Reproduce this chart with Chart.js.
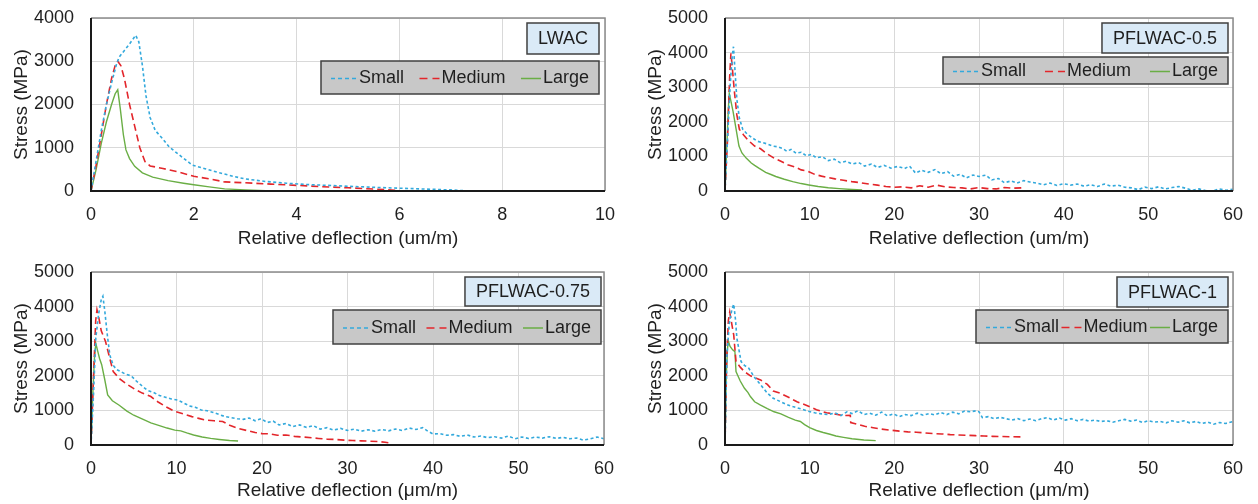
<!DOCTYPE html>
<html lang="en">
<head>
  <meta charset="UTF-8" />
  <title>Stress vs relative deflection</title>
  <script src="https://cdn.jsdelivr.net/npm/chart.js"></script>
  <style>
    body {
      margin: 0;
      background: #fff;
      width: 1258px;
      height: 504px;
      position: relative;
      overflow: hidden;
    }
    .panel {
      position: absolute;
      width: 629px;
      height: 252px;
    }
  </style>
</head>
<body>
  <div class="panel" style="left:0;top:0"><canvas id="cLwac" width="629" height="252"></canvas></div>
  <div class="panel" style="left:629px;top:0"><canvas id="cPf05" width="629" height="252"></canvas></div>
  <div class="panel" style="left:0;top:252px"><canvas id="cPf075" width="629" height="252"></canvas></div>
  <div class="panel" style="left:629px;top:252px"><canvas id="cPf1" width="629" height="252"></canvas></div>

  <script>
    // series names and styles
    const seriesNames = ["Small", "Medium", "Large"];
    const lineColors = ["#33A9DC", "#E3262B", "#6AAE45"];

    // [deflection, stress] pairs
    const lwacSmall = [[0,0],[0.1,700],[0.2,1400],[0.3,2000],[0.4,2500],[0.5,2950],[0.55,3100],[0.65,3250],[0.75,3400],[0.87,3600],[0.93,3450],[1.0,2900],[1.07,2200],[1.15,1700],[1.25,1400],[1.4,1200],[1.52,1020],[1.7,850],[1.97,600],[2.2,520],[2.5,420],[2.8,330],[3.0,280],[3.4,220],[3.8,180],[4.2,150],[4.6,130],[5.0,110],[5.5,85],[6.0,65],[6.5,45],[7.0,25],[7.3,5]];
    const lwacMedium = [[0,0],[0.1,600],[0.2,1300],[0.3,2000],[0.4,2600],[0.47,2900],[0.52,3000],[0.58,2900],[0.65,2600],[0.75,2000],[0.85,1500],[0.95,1000],[1.05,680],[1.15,580],[1.4,520],[1.7,440],[2.0,340],[2.3,280],[2.6,210],[3.0,190],[3.5,160],[4.0,130],[4.5,100],[5.0,75],[5.5,45],[6.0,10]];
    const lwacLarge = [[0,0],[0.1,500],[0.2,1100],[0.3,1600],[0.4,2000],[0.47,2250],[0.52,2340],[0.57,1900],[0.63,1300],[0.68,950],[0.75,750],[0.85,570],[1.0,420],[1.2,320],[1.5,240],[1.8,180],[2.0,145],[2.3,95],[2.6,50],[3.0,25],[3.4,8]];

    const pf05Small = [[0,0],[0.3,1500],[0.6,3000],[0.85,3900],[1.0,4170],[1.15,3600],[1.4,2650],[1.7,2100],[2.1,1780],[2.6,1650],[3.2,1540],[3.8,1440],[4.4,1400],[5.0,1360],[5.6,1300],[6.2,1280],[6.8,1230],[7.3,1150],[7.8,1200],[8.4,1090],[9.0,1120],[9.6,1020],[10.2,1060],[10.8,960],[11.5,990],[12.2,880],[12.9,920],[13.6,820],[14.3,860],[15.0,780],[15.8,820],[16.5,720],[17.3,780],[18.0,680],[18.8,740],[19.6,660],[20.4,710],[21.2,650],[21.8,720],[22.5,520],[23.2,600],[24.0,540],[24.8,620],[25.5,500],[26.3,560],[27.0,430],[27.8,480],[28.5,380],[29.3,460],[30.0,420],[30.8,460],[31.5,320],[32.3,360],[33.0,240],[33.8,290],[34.5,230],[35.3,300],[36.0,260],[36.8,230],[37.6,180],[38.4,230],[39.2,160],[40.0,210],[40.8,170],[41.6,200],[42.4,140],[43.2,180],[44.0,130],[44.8,200],[45.6,140],[46.4,170],[47.2,110],[48.0,90],[48.8,40],[49.6,110],[50.4,70],[51.2,120],[52.0,60],[52.8,100],[53.6,130],[54.4,80],[55.2,20],[56.0,60],[56.8,10],[57.6,0],[58.4,60],[59.2,20],[60,50]];
    const pf05Medium = [[0,0],[0.3,1500],[0.55,3300],[0.7,3980],[0.85,3600],[1.1,2900],[1.4,2200],[1.7,1780],[2.2,1620],[2.8,1450],[3.5,1300],[4.2,1220],[5.0,1070],[5.8,950],[6.6,860],[7.4,760],[8.2,700],[9.0,610],[9.8,570],[10.6,480],[11.4,430],[12.2,390],[13.0,350],[14.0,310],[15.0,270],[16.0,240],[17.0,200],[18.0,170],[19.0,130],[20.0,110],[21.0,120],[22.0,90],[23.0,150],[24.0,110],[25.0,170],[26.0,120],[27.0,100],[28.0,90],[29.0,60],[30.0,100],[31.0,70],[32.0,60],[33.0,100],[34.0,80],[35.0,90],[35.3,120]];
    const pf05Large = [[0,0],[0.2,1200],[0.4,2400],[0.5,2820],[0.7,2600],[0.95,2300],[1.3,1800],[1.65,1300],[2.0,1100],[2.5,950],[3.1,810],[3.5,740],[4.0,660],[4.8,540],[5.5,470],[6.0,420],[7.0,340],[8.0,270],[9.0,215],[9.9,175],[11.0,130],[12.2,95],[13.5,70],[15.0,45],[16.2,30]];

    const pf075Small = [[0,0],[0.3,1500],[0.56,3090],[0.9,3800],[1.2,4200],[1.39,4300],[1.6,3900],[1.9,3200],[2.2,2600],[2.6,2300],[3.0,2180],[3.5,2120],[4.0,2050],[4.7,2000],[5.3,1850],[6.0,1700],[6.6,1580],[7.3,1520],[8.0,1430],[8.7,1380],[9.4,1330],[10.1,1300],[10.8,1220],[11.5,1130],[12.2,1090],[12.9,1010],[13.6,990],[14.3,940],[15.0,880],[15.7,820],[16.4,790],[17.1,760],[17.8,740],[18.5,780],[19.2,700],[19.9,760],[20.6,650],[21.3,690],[22.0,580],[22.8,620],[23.6,530],[24.4,580],[25.2,510],[26.0,560],[26.8,460],[27.6,500],[28.4,430],[29.2,480],[30.0,420],[30.8,460],[31.6,400],[32.4,440],[33.2,400],[34.0,450],[34.8,410],[35.6,460],[36.4,420],[37.2,490],[38.0,450],[38.8,500],[39.4,400],[40.0,320],[40.8,330],[41.6,280],[42.4,300],[43.2,250],[44.0,290],[44.8,230],[45.6,260],[46.4,210],[47.2,240],[48.0,200],[48.8,260],[49.6,180],[50.4,230],[51.2,190],[52.0,230],[52.8,200],[53.6,240],[54.4,190],[55.2,220],[56.0,180],[56.8,200],[57.6,140],[58.4,180],[59.2,230],[60,180]];
    const pf075Medium = [[0,0],[0.3,2000],[0.55,3600],[0.7,3910],[0.9,3700],[1.2,3300],[1.7,2990],[2.2,2500],[2.6,2120],[3.4,1900],[4.3,1740],[5.2,1600],[6.0,1500],[7.0,1400],[7.8,1250],[8.8,1100],[9.8,970],[10.8,900],[11.8,820],[12.6,770],[13.4,720],[14.4,700],[15.4,680],[16.3,560],[17.2,480],[18.2,420],[19.2,360],[20.0,330],[21.0,320],[21.8,280],[22.8,290],[23.8,250],[24.8,230],[25.8,210],[26.6,190],[27.6,170],[28.6,160],[29.6,140],[30.6,130],[31.6,120],[32.6,110],[33.6,100],[34.4,80],[35.1,50]];
    const pf075Large = [[0,0],[0.2,1400],[0.4,2500],[0.56,2940],[0.8,2700],[1.0,2500],[1.25,2320],[1.6,1900],[1.95,1450],[2.5,1280],[3.3,1150],[4.2,980],[5.0,860],[6.1,740],[7.0,640],[8.0,560],[8.9,490],[9.8,430],[10.5,410],[11.2,350],[12.0,290],[13.0,230],[14.0,190],[15.0,160],[16.2,130],[17.2,115]];

    const pf1Small = [[0,0],[0.23,2600],[0.5,3500],[0.8,3900],[1.03,4070],[1.25,3600],[1.4,3090],[1.9,2410],[2.3,2300],[2.8,2220],[3.5,1950],[4.2,1740],[5.0,1500],[5.7,1350],[6.5,1260],[7.2,1180],[8.0,1110],[9.0,1040],[9.8,980],[10.6,930],[11.4,900],[12.2,880],[13.0,930],[13.7,850],[14.4,960],[15.0,910],[15.7,990],[16.4,880],[17.1,920],[17.8,860],[18.5,950],[19.2,840],[19.9,900],[20.6,820],[21.3,880],[22.0,850],[22.7,920],[23.4,860],[24.1,910],[24.8,870],[25.5,940],[26.2,880],[26.9,950],[27.6,900],[28.3,980],[29.0,960],[29.7,990],[30.0,960],[30.4,790],[31.1,820],[31.8,760],[32.5,800],[33.2,760],[33.9,720],[34.6,760],[35.3,700],[36.0,750],[36.7,700],[37.4,760],[38.1,790],[38.8,720],[39.5,780],[40.2,720],[40.9,760],[41.6,700],[42.3,740],[43.0,690],[43.7,720],[44.4,680],[45.1,700],[45.8,660],[46.5,700],[47.2,740],[47.9,690],[48.6,720],[49.3,650],[50.0,700],[50.7,660],[51.4,680],[52.1,640],[52.8,700],[53.5,660],[54.2,700],[54.9,640],[55.6,680],[56.3,620],[57.0,660],[57.7,600],[58.4,650],[59.1,620],[60,680]];
    const pf1Medium = [[0,0],[0.2,2500],[0.4,3600],[0.56,3840],[0.8,3500],[1.03,3180],[1.3,2410],[1.8,2250],[2.3,2120],[3.0,2000],[4.2,1880],[5.0,1750],[5.7,1560],[6.5,1500],[7.5,1380],[8.5,1250],[9.8,1130],[10.8,1020],[12.0,930],[13.1,890],[14.0,850],[14.8,860],[14.85,650],[15.6,600],[16.5,540],[17.5,500],[18.5,460],[19.5,430],[20.6,400],[21.6,380],[22.6,370],[23.6,350],[24.6,330],[25.6,320],[26.6,300],[27.6,290],[28.6,280],[29.6,270],[30.6,260],[31.6,250],[32.6,245],[33.6,240],[34.9,235]];
    const pf1Large = [[0,0],[0.15,2000],[0.3,2800],[0.4,3000],[0.6,2850],[0.9,2750],[1.17,2700],[1.3,2120],[1.8,1850],[2.3,1640],[2.7,1520],[3.0,1400],[3.5,1250],[4.2,1150],[5.0,1050],[5.8,960],[6.6,900],[7.5,800],[8.3,720],[8.9,680],[9.4,590],[10.0,500],[10.8,420],[11.6,360],[12.4,310],[13.1,260],[14.0,220],[15.0,180],[16.4,145],[17.8,125]];

    const font = { family: '"Liberation Sans", Arial, sans-serif', size: 18 };
    const titleFont = { family: '"Liberation Sans", Arial, sans-serif', size: 19 };
    const textColor = "#1f1f1f";

    function drawSample(ctx, i, x, y, len) {
      ctx.save();
      ctx.strokeStyle = lineColors[i];
      ctx.lineWidth = 1.5;
      if (i === 0) ctx.setLineDash([4, 3]);
      if (i === 1) ctx.setLineDash([8, 5]);
      ctx.beginPath();
      ctx.moveTo(x, y);
      ctx.lineTo(x + len, y);
      ctx.stroke();
      ctx.restore();
    }

    function buildChart(id, p) {
      const boxes = {
        id: "boxes_" + id,
        afterDraw(chart) {
          const ctx = chart.ctx;
          const a = chart.chartArea;
          ctx.save();
          // frame
          ctx.strokeStyle = "#8c8c8c";
          ctx.lineWidth = 1.5;
          ctx.beginPath();
          ctx.moveTo(a.left, a.top);
          ctx.lineTo(a.right, a.top);
          ctx.lineTo(a.right, a.bottom);
          ctx.stroke();
          ctx.strokeStyle = "#1a1a1a";
          ctx.lineWidth = 2;
          ctx.beginPath();
          ctx.moveTo(a.left, a.top);
          ctx.lineTo(a.left, a.bottom);
          ctx.lineTo(a.right, a.bottom);
          ctx.stroke();

          ctx.font = font.size + "px " + font.family;
          ctx.textBaseline = "middle";

          // name box
          const tw = ctx.measureText(p.title).width + 22;
          const tx = a.right - p.boxRight - tw;
          const ty = a.top + 5;
          ctx.fillStyle = "#DAEAF7";
          ctx.fillRect(tx, ty, tw, p.titleH);
          ctx.strokeStyle = "#404040";
          ctx.lineWidth = 1.5;
          ctx.strokeRect(tx, ty, tw, p.titleH);
          ctx.fillStyle = textColor;
          ctx.textAlign = "center";
          ctx.fillText(p.title, tx + tw / 2, ty + p.titleH / 2 + 1);

          // legend box
          const lx = a.right - p.boxRight - p.legendW;
          const ly = ty + p.titleH + p.legendGap;
          ctx.fillStyle = "#C8C8C8";
          ctx.fillRect(lx, ly, p.legendW, p.legendH);
          ctx.strokeStyle = "#404040";
          ctx.strokeRect(lx, ly, p.legendW, p.legendH);
          const sampleLen = [26, 20, 20];
          const widths = seriesNames.map((n, i) => sampleLen[i] + 2 + ctx.measureText(n).width);
          const used = widths.reduce((s, w) => s + w, 0);
          const gap = (p.legendW - 20 - used) / 2;
          let cx = lx + 10;
          const cy = ly + p.legendH / 2 + 1;
          ctx.textAlign = "left";
          seriesNames.forEach((n, i) => {
            drawSample(ctx, i, cx, cy, sampleLen[i]);
            ctx.fillStyle = textColor;
            ctx.fillText(n, cx + sampleLen[i] + 2, cy);
            cx += widths[i] + gap;
          });
          ctx.restore();
        }
      };

      new Chart(document.getElementById(id), {
        type: "scatter",
        data: {
          datasets: p.series.map((s, i) => ({
            label: seriesNames[i],
            data: s.map(([x, y]) => ({ x, y })),
            showLine: true,
            pointRadius: 0,
            borderColor: lineColors[i],
            borderWidth: i === 2 ? 1.4 : 1.6,
            borderDash: i === 0 ? [3, 2.5] : i === 1 ? [7, 4] : [],
            fill: false,
            tension: 0
          }))
        },
        options: {
          responsive: false,
          animation: false,
          layout: { padding: { left: 0, right: p.padR, top: p.padT, bottom: 0 } },
          plugins: {
            legend: { display: false },
            tooltip: { enabled: false }
          },
          scales: {
            x: {
              type: "linear",
              min: 0,
              max: p.xMax,
              ticks: { stepSize: p.xStep, padding: 13, color: textColor, font, maxRotation: 0, callback: v => String(v) },
              grid: { color: "#d9d9d9", drawTicks: false },
              border: { display: false },
              title: { display: true, text: p.xTitle, color: textColor, font: titleFont, padding: { top: 0, bottom: 2 } },
              afterFit(s) {
                s.height = p.xH;
                s.paddingLeft = 0;
                s.paddingRight = 0;
              }
            },
            y: {
              min: 0,
              max: p.yMax,
              ticks: { stepSize: 1000, padding: 17, color: textColor, font, callback: v => String(v) },
              grid: { color: "#d9d9d9", drawTicks: false },
              border: { display: false },
              title: { display: true, text: "Stress (MPa)", color: textColor, font: titleFont, padding: { top: p.yTitlePad, bottom: 0 } },
              afterFit(s) {
                s.width = p.yW;
                s.paddingTop = 0;
                s.paddingBottom = 0;
              }
            }
          }
        },
        plugins: [boxes]
      });
    }

    buildChart("cLwac", {
      series: [lwacSmall, lwacMedium, lwacLarge],
      xMax: 10, xStep: 2, yMax: 4000,
      xTitle: "Relative deflection (um/m)",
      title: "LWAC",
      padR: 24, padT: 18, yW: 91, xH: 61, yTitlePad: 10,
      boxRight: 6, titleH: 31, legendGap: 7, legendW: 278, legendH: 33
    });
    buildChart("cPf05", {
      series: [pf05Small, pf05Medium, pf05Large],
      xMax: 60, xStep: 10, yMax: 5000,
      xTitle: "Relative deflection (um/m)",
      title: "PFLWAC-0.5",
      padR: 25, padT: 18, yW: 96, xH: 61, yTitlePad: 15,
      boxRight: 5, titleH: 30, legendGap: 4, legendW: 285, legendH: 27
    });
    buildChart("cPf075", {
      series: [pf075Small, pf075Medium, pf075Large],
      xMax: 60, xStep: 10, yMax: 5000,
      xTitle: "Relative deflection (\u03bcm/m)",
      title: "PFLWAC-0.75",
      padR: 25, padT: 20, yW: 91, xH: 59, yTitlePad: 10,
      boxRight: 3, titleH: 29, legendGap: 4, legendW: 268, legendH: 34
    });
    buildChart("cPf1", {
      series: [pf1Small, pf1Medium, pf1Large],
      xMax: 60, xStep: 10, yMax: 5000,
      xTitle: "Relative deflection (\u03bcm/m)",
      title: "PFLWAC-1",
      padR: 25, padT: 20, yW: 96, xH: 59, yTitlePad: 15,
      boxRight: 5, titleH: 30, legendGap: 3, legendW: 252, legendH: 33
    });
  </script>
</body>
</html>
